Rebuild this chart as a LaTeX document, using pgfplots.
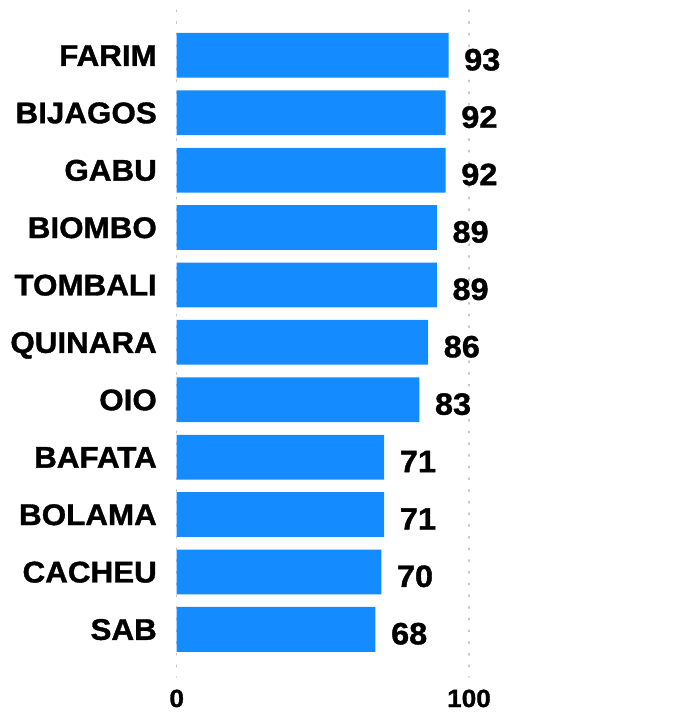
\documentclass[border=0pt]{standalone}
\usepackage{fontspec}
\setmainfont{Liberation Sans}
\newfontfamily\heavy{Liberation Sans}[UprightFont={* Bold}, FakeBold=1.2, FakeStretch=1.05]
\usepackage{pgfplots}
\pgfplotsset{compat=1.18}
\definecolor{barblue}{RGB}{20,139,255}
\begin{document}
\begin{tikzpicture}
\path[use as bounding box] (-176.7bp,-37bp) rectangle (502.3bp,677bp);
\begin{axis}[
  at={(0,0)}, anchor=south west,
  scale only axis, width=496.9bp, height=667bp,
  xbar, bar width=0.78,
  xmin=0, xmax=170, ymin=-0.79, ymax=10.83, y dir=reverse,
  ytick={0,...,10},
  yticklabels={FARIM,BIJAGOS,GABU,BIOMBO,TOMBALI,QUINARA,OIO,BAFATA,BOLAMA,CACHEU,SAB},
  xtick={0,100},
  /pgf/number format/assume math mode=true,
  axis line style={draw=none}, major tick length=0pt,
  xmajorgrids, ymajorgrids=false,
  grid style={gray!45, line width=1.5bp, dash pattern=on 1.5bp off 10.2bp, line cap=round},
  yticklabel style={font=\fontsize{30}{30}\selectfont\heavy, anchor=base east, inner sep=0pt, xshift=-19.7bp, yshift=-10.5bp},
  xticklabel style={font=\fontsize{25}{25}\selectfont\heavy, anchor=base, inner sep=0pt, yshift=-30bp},
  nodes near coords,
  nodes near coords style={font=\fontsize{31}{31}\selectfont\heavy, anchor=base west, inner sep=0pt, xshift=15.5bp, yshift=-15bp, text=black},
]
\addplot[fill=barblue, draw=none] coordinates {
(93,0) (92,1) (92,2) (89,3) (89,4) (86,5) (83,6) (71,7) (71,8) (70,9) (68,10)
};
\end{axis}
\end{tikzpicture}
\end{document}
